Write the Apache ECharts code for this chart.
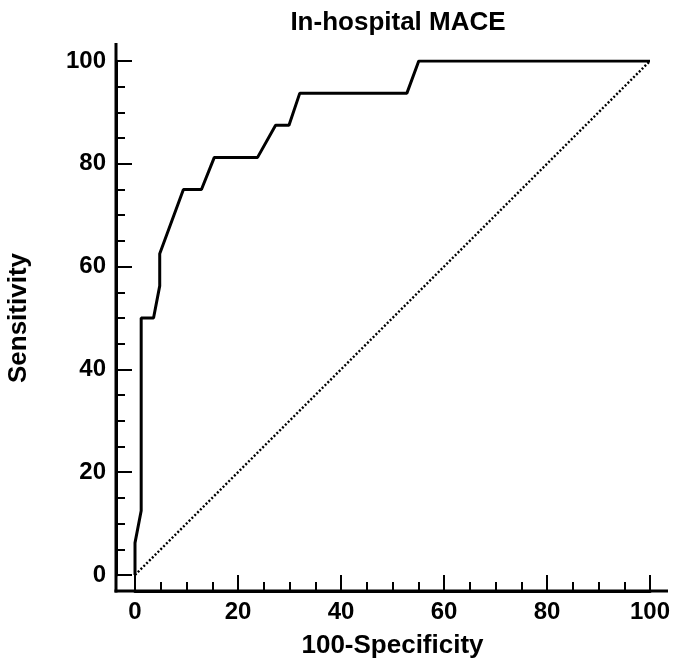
<!DOCTYPE html>
<html>
<head>
<meta charset="utf-8">
<script src="https://cdn.jsdelivr.net/npm/echarts@6/dist/echarts.min.js"></script>
<style>html,body{margin:0;padding:0;background:#fff;}#c{width:673px;height:670px;}</style>
</head>
<body>
<div id="c"></div>
<script>
// ROC curve: 100-Specificity (x) vs Sensitivity (y)
var rocX = [0, 0, 1.2, 1.2, 3.6, 4.8, 4.8, 9.4, 12.9, 15.4, 23.8, 27.3, 29.9, 32.0, 52.8, 55.1, 100];
var rocY = [0, 6.25, 12.5, 50, 50, 56.25, 62.5, 75, 75, 81.25, 81.25, 87.5, 87.5, 93.75, 93.75, 100, 100];
var refX = [0, 100];
var refY = [0, 100];
var xTicks = [0, 20, 40, 60, 80, 100];
var yTicks = [0, 20, 40, 60, 80, 100];

var titleText = 'In-hospital MACE';
var xName = '100-Specificity';
var yName = 'Sensitivity';

function pairs(xs, ys) { return xs.map(function (v, i) { return [v, ys[i]]; }); }

var FONT = 'Liberation Sans, Arial, sans-serif';
var chart = echarts.init(document.getElementById('c'), null, { renderer: 'canvas' });

function axisCommon(ticks) {
  return {
    type: 'value',
    min: ticks[0],
    max: ticks[ticks.length - 1],
    interval: ticks[1] - ticks[0],
    splitLine: { show: false },
    axisLine: { show: true, onZero: false, lineStyle: { color: '#000', width: 3 } },
    axisTick: { show: true, inside: true, length: 16, lineStyle: { color: '#000', width: 2 } },
    minorTick: { show: true, splitNumber: 4, length: 9, lineStyle: { color: '#000', width: 2 } },
    axisLabel: { color: '#000', fontSize: 24, fontWeight: 'bold', fontFamily: FONT },
    nameLocation: 'middle',
    nameTextStyle: { color: '#000', fontSize: 26, fontWeight: 'bold', fontFamily: FONT }
  };
}

var xAxis = axisCommon(xTicks);
xAxis.offset = 16;
xAxis.name = xName;
xAxis.nameGap = 42;
xAxis.axisLabel.margin = 9;

var yAxis = axisCommon(yTicks);
yAxis.offset = 19;
yAxis.name = yName;
yAxis.nameGap = 84;
yAxis.axisLabel.margin = 10;

chart.setOption({
  animation: false,
  backgroundColor: '#fff',
  title: {
    text: titleText,
    left: 393,
    top: 5,
    textAlign: 'center',
    textStyle: { color: '#000', fontSize: 26, fontWeight: 'bold', fontFamily: FONT }
  },
  grid: { left: 135, right: 23, top: 61, bottom: 95, outerBoundsMode: 'none', containLabel: false },
  xAxis: xAxis,
  yAxis: yAxis,
  graphic: [
    { type: 'line', shape: { x1: 116, y1: 43, x2: 116, y2: 592.5 }, style: { stroke: '#000', lineWidth: 3 }, z: 100 },
    { type: 'line', shape: { x1: 114.5, y1: 591, x2: 668, y2: 591 }, style: { stroke: '#000', lineWidth: 3 }, z: 100 }
  ],
  series: [
    {
      type: 'line',
      data: pairs(refX, refY),
      showSymbol: false,
      lineStyle: { color: '#000', width: 2.4, type: [2, 2] },
      z: 2
    },
    {
      type: 'line',
      data: pairs(rocX, rocY),
      showSymbol: false,
      lineStyle: { color: '#000', width: 3 },
      z: 3
    }
  ]
});
</script>
</body>
</html>
